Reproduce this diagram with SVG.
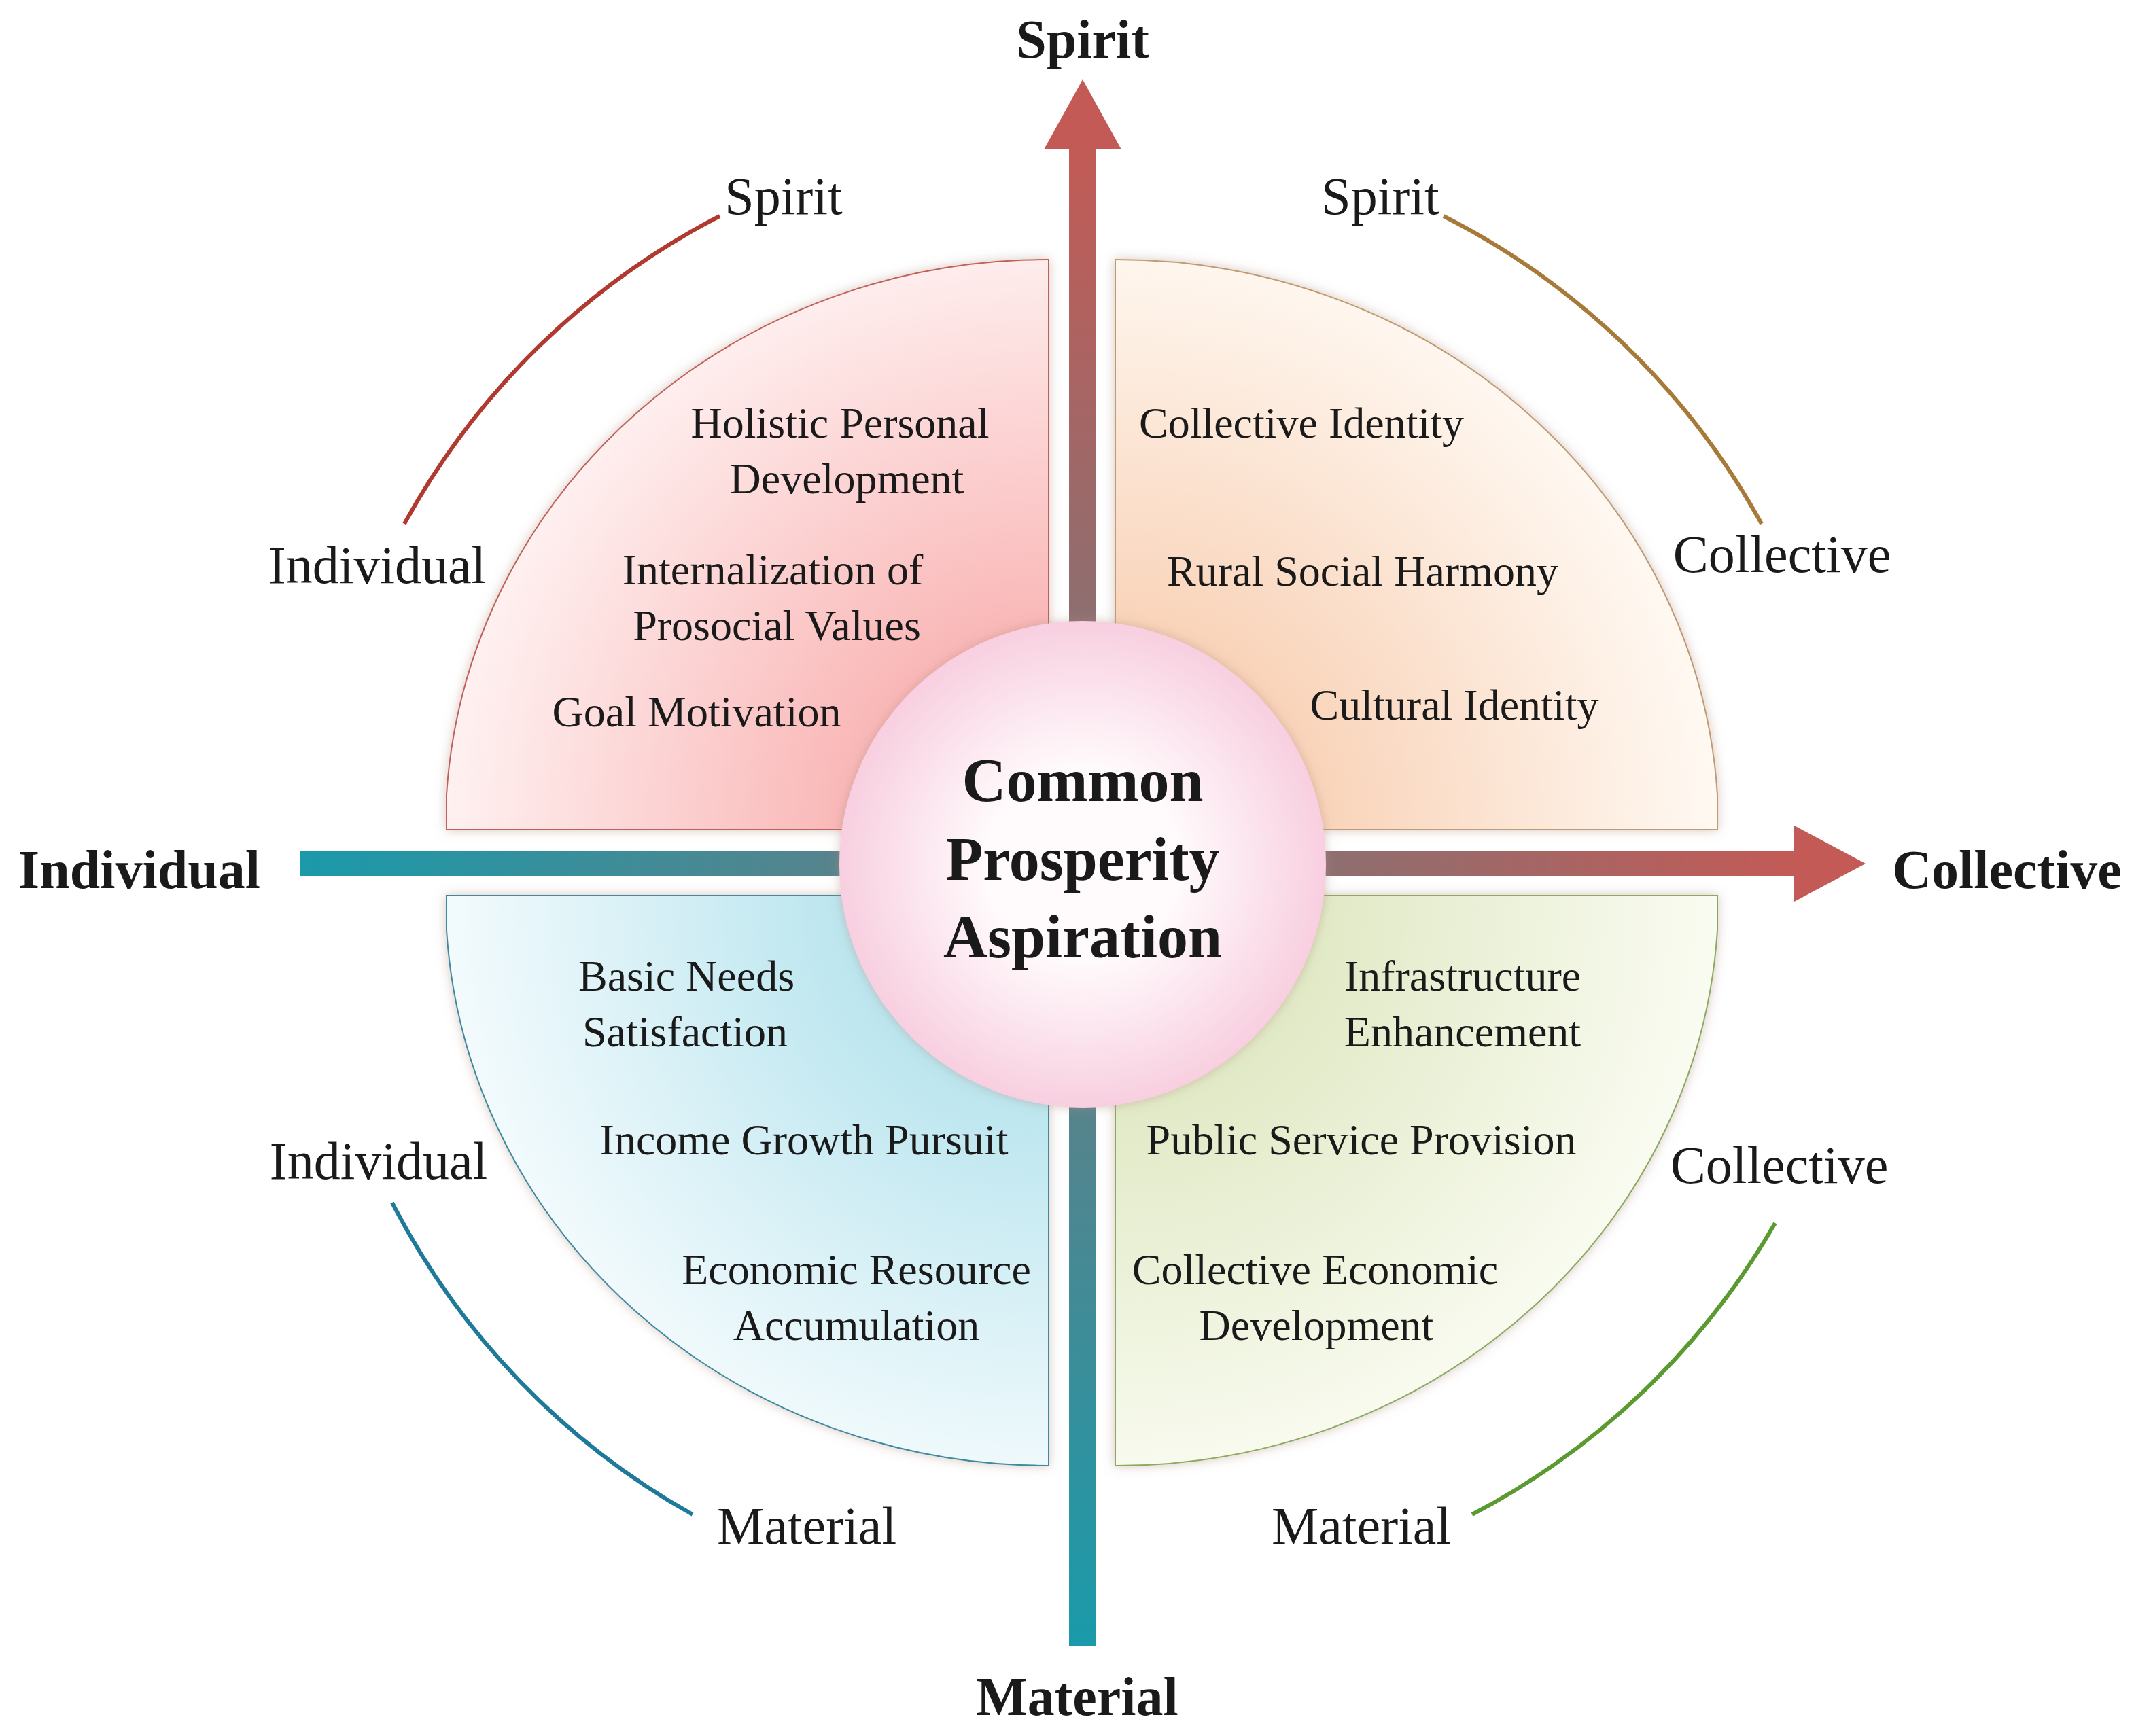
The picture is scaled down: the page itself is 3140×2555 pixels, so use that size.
<svg xmlns="http://www.w3.org/2000/svg" width="3140" height="2555" viewBox="0 0 3140 2555">
<style>
.t{font-family:"Liberation Serif","Times New Roman",serif;fill:#1a1a1a;text-anchor:middle;dominant-baseline:central}
.in{font-size:64px}
.out{font-size:78px}
.ax{font-size:80px;font-weight:bold}
.ctr{font-size:90px;font-weight:bold}
.arc{fill:none;stroke-width:6}
</style>
<defs>
<radialGradient id="gTL" gradientUnits="userSpaceOnUse" cx="1543" cy="1221" r="900"><stop offset="0" stop-color="#f79a9a"/><stop offset="1" stop-color="#fff2f2"/></radialGradient>
<radialGradient id="gTR" gradientUnits="userSpaceOnUse" cx="1641" cy="1221" r="900"><stop offset="0" stop-color="#f6c09c"/><stop offset="1" stop-color="#fffaf4"/></radialGradient>
<radialGradient id="gBL" gradientUnits="userSpaceOnUse" cx="1543" cy="1318" r="900"><stop offset="0" stop-color="#9fdbe8"/><stop offset="1" stop-color="#f4fbfd"/></radialGradient>
<radialGradient id="gBR" gradientUnits="userSpaceOnUse" cx="1641" cy="1318" r="900"><stop offset="0" stop-color="#d4e0b0"/><stop offset="1" stop-color="#fafcf2"/></radialGradient>
<radialGradient id="gC" cx="0.5" cy="0.5" r="0.5"><stop offset="0.4" stop-color="#fffafc"/><stop offset="1" stop-color="#f8cfe0"/></radialGradient>
<linearGradient id="gV" x1="0" y1="0" x2="0" y2="1"><stop offset="0" stop-color="#c45a55"/><stop offset="1" stop-color="#1a9aaa"/></linearGradient>
<linearGradient id="gH" x1="0" y1="0" x2="1" y2="0"><stop offset="0" stop-color="#1a9aaa"/><stop offset="1" stop-color="#c45a55"/></linearGradient>
<filter id="sh" x="-10%" y="-10%" width="120%" height="120%"><feDropShadow dx="0" dy="0" stdDeviation="8" flood-color="#b09080" flood-opacity="0.5"/></filter>
</defs>
<g id="connectors">
<rect x="1573" y="200" width="40" height="2222" fill="url(#gV)"/>
<polygon points="1593,117 1650,220 1536,220" fill="#c45a55"/>
<rect x="442" y="1252" width="2220" height="38" fill="url(#gH)"/>
<polygon points="2745,1271 2640,1215 2640,1327" fill="#c45a55"/>
<path class="arc" stroke="#b03a30" d="M1059,318 A1105,1105 0 0 0 595,771"/>
<path class="arc" stroke="#a87a3a" d="M2124,318 A1105,1105 0 0 1 2592,771"/>
<path class="arc" stroke="#1f7a9a" d="M577,1770 A1105,1105 0 0 0 1019,2229"/>
<path class="arc" stroke="#5a9a30" d="M2612,1800 A1105,1105 0 0 1 2166,2229"/>
</g>
<g id="q-tl"><path d="M1543,382 L1543,1221 L657,1221 L657,1170 A886,839 0 0 1 1543,382 Z" fill="url(#gTL)" stroke="#c0605a" stroke-width="2" filter="url(#sh)"/>
<text class="t in" x="1236" y="622">Holistic Personal</text><text class="t in" x="1246" y="704">Development</text>
<text class="t in" x="1137" y="838">Internalization of</text><text class="t in" x="1143" y="920">Prosocial Values</text>
<text class="t in" x="1025" y="1047">Goal Motivation</text></g>
<g id="q-tr"><path d="M1641,382 L1641,1221 L2527,1221 L2527,1170 A886,839 0 0 0 1641,382 Z" fill="url(#gTR)" stroke="#c09a70" stroke-width="2" filter="url(#sh)"/>
<text class="t in" x="1915" y="622">Collective Identity</text>
<text class="t in" x="2005" y="840">Rural Social Harmony</text>
<text class="t in" x="2140" y="1037">Cultural Identity</text></g>
<g id="q-bl"><path d="M1543,2157 L1543,1318 L657,1318 L657,1369 A886,839 0 0 0 1543,2157 Z" fill="url(#gBL)" stroke="#3a8aa0" stroke-width="2" filter="url(#sh)"/>
<text class="t in" x="1010" y="1436">Basic Needs</text><text class="t in" x="1008" y="1518">Satisfaction</text>
<text class="t in" x="1183" y="1677">Income Growth Pursuit</text>
<text class="t in" x="1260" y="1868">Economic Resource</text><text class="t in" x="1260" y="1950">Accumulation</text></g>
<g id="q-br"><path d="M1641,2157 L1641,1318 L2527,1318 L2527,1369 A886,839 0 0 1 1641,2157 Z" fill="url(#gBR)" stroke="#8aaa60" stroke-width="2" filter="url(#sh)"/>
<text class="t in" x="2152" y="1436">Infrastructure</text><text class="t in" x="2152" y="1518">Enhancement</text>
<text class="t in" x="2003" y="1677">Public Service Provision</text>
<text class="t in" x="1935" y="1868">Collective Economic</text><text class="t in" x="1937" y="1950">Development</text></g>
<g id="center"><circle cx="1593" cy="1272" r="358" fill="url(#gC)" filter="url(#sh)"/>
<text class="t ctr" x="1593" y="1148">Common</text><text class="t ctr" x="1593" y="1264">Prosperity</text><text class="t ctr" x="1593" y="1378">Aspiration</text></g>
<g id="labels">
<text class="t ax" x="1593" y="58">Spirit</text>
<text class="t ax" x="205" y="1280">Individual</text>
<text class="t ax" x="2953" y="1280">Collective</text>
<text class="t ax" x="1585" y="2497">Material</text>
<text class="t out" x="1153" y="288">Spirit</text>
<text class="t out" x="2031" y="288">Spirit</text>
<text class="t out" x="555" y="831">Individual</text>
<text class="t out" x="2622" y="815">Collective</text>
<text class="t out" x="557" y="1708">Individual</text>
<text class="t out" x="2618" y="1714">Collective</text>
<text class="t out" x="1187" y="2245">Material</text>
<text class="t out" x="2003" y="2245">Material</text>
</g>
</svg>
